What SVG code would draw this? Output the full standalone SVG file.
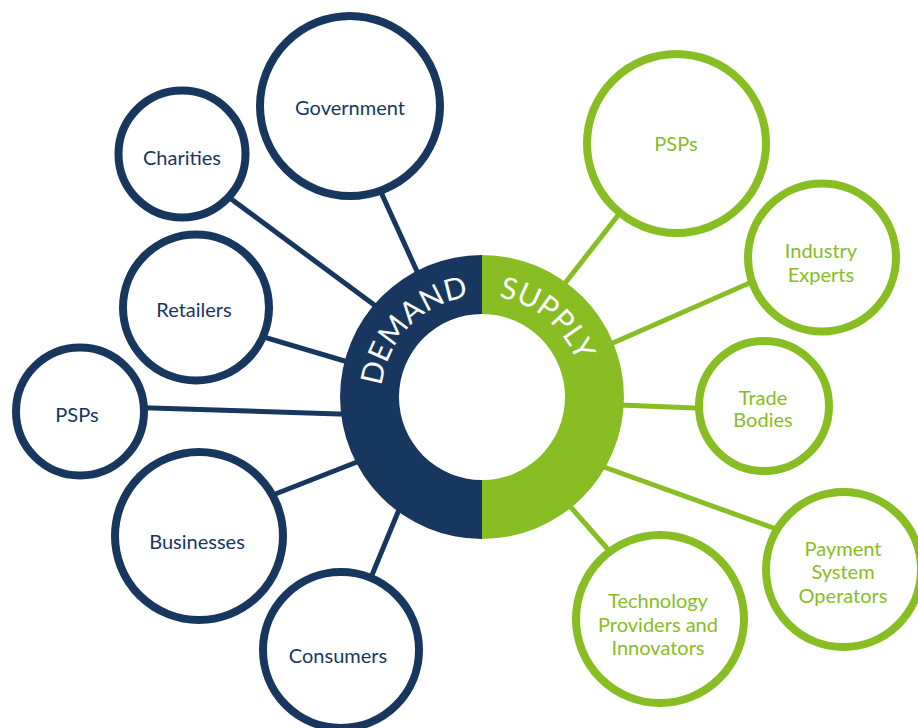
<svg xmlns="http://www.w3.org/2000/svg" width="918" height="728" viewBox="0 0 918 728">
<style>
.navy{fill:#fff;stroke:#17375e;stroke-width:8}
.green{fill:#fff;stroke:#88bd23;stroke-width:8}
.cn{stroke:#17375e;stroke-width:5;fill:none}
.cg{stroke:#88bd23;stroke-width:5;fill:none}
.tn{font-family:Lato,"Liberation Sans",sans-serif;font-size:20px;fill:#17375e;text-anchor:middle}
.tg{font-family:Lato,"Liberation Sans",sans-serif;font-size:20px;fill:#88bd23;text-anchor:middle}
.ring{font-family:Lato,"Liberation Sans",sans-serif;font-size:30px;font-weight:400;fill:#fff;text-anchor:middle}
</style>
<defs>
<path id="arc" d="M381,397 A101,101 0 0 1 583,397"/>
</defs>
<rect width="918" height="728" fill="#fff"/>
<g id="connectors">
<line class="cn" x1="370" y1="168" x2="430" y2="300"/>
<line class="cn" x1="200" y1="176" x2="400" y2="324"/>
<line class="cn" x1="250" y1="333" x2="375" y2="370"/>
<line class="cn" x1="120" y1="407" x2="370" y2="415"/>
<line class="cn" x1="260" y1="500" x2="380" y2="453"/>
<line class="cn" x1="365" y1="592" x2="410" y2="483"/>
<line class="cg" x1="630" y1="200" x2="548" y2="305"/>
<line class="cg" x1="770" y1="274" x2="590" y2="353"/>
<line class="cg" x1="720" y1="409" x2="595" y2="404"/>
<line class="cg" x1="790" y1="534" x2="590" y2="462"/>
<line class="cg" x1="620" y1="563" x2="560" y2="495"/>
</g>
<g id="hub">
<path d="M482,255 A142,142 0 0 0 482,539 L482,480 A83,83 0 0 1 482,314 Z" fill="#17375e"/>
<path d="M482,255 A142,142 0 0 1 482,539 L482,480 A83,83 0 0 0 482,314 Z" fill="#88bd23"/>
<text class="ring"><textPath href="#arc" startOffset="78">DEMAND</textPath></text>
<text class="ring"><textPath href="#arc" startOffset="228">SUPPLY</textPath></text>
</g>
<g id="government"><circle class="navy" cx="350" cy="106" r="90"/><text class="tn" x="350" y="115">Government</text></g>
<g id="charities"><circle class="navy" cx="182" cy="154" r="63.5"/><text class="tn" x="182" y="165">Charities</text></g>
<g id="retailers"><circle class="navy" cx="196" cy="307.5" r="73"/><text class="tn" x="194" y="317">Retailers</text></g>
<g id="psps-demand"><circle class="navy" cx="80" cy="411.5" r="64"/><text class="tn" x="77" y="422">PSPs</text></g>
<g id="businesses"><circle class="navy" cx="199" cy="536" r="84"/><text class="tn" x="197" y="549">Businesses</text></g>
<g id="consumers"><circle class="navy" cx="341" cy="650" r="78"/><text class="tn" x="338" y="663">Consumers</text></g>
<g id="psps-supply"><circle class="green" cx="676.5" cy="143.5" r="89.5"/><text class="tg" x="676" y="151">PSPs</text></g>
<g id="industry-experts"><circle class="green" cx="822" cy="257.5" r="74"/><text class="tg" x="821" y="258">Industry</text><text class="tg" x="821" y="282">Experts</text></g>
<g id="trade-bodies"><circle class="green" cx="764" cy="406" r="65"/><text class="tg" x="763" y="405">Trade</text><text class="tg" x="763" y="427">Bodies</text></g>
<g id="payment-system-operators"><circle class="green" cx="843.5" cy="569.5" r="77.5"/><text class="tg" x="843" y="556">Payment</text><text class="tg" x="843" y="579">System</text><text class="tg" x="843" y="603">Operators</text></g>
<g id="technology-providers"><circle class="green" cx="660" cy="619" r="84"/><text class="tg" x="658" y="608">Technology</text><text class="tg" x="658" y="632">Providers and</text><text class="tg" x="658" y="655">Innovators</text></g>
</svg>
